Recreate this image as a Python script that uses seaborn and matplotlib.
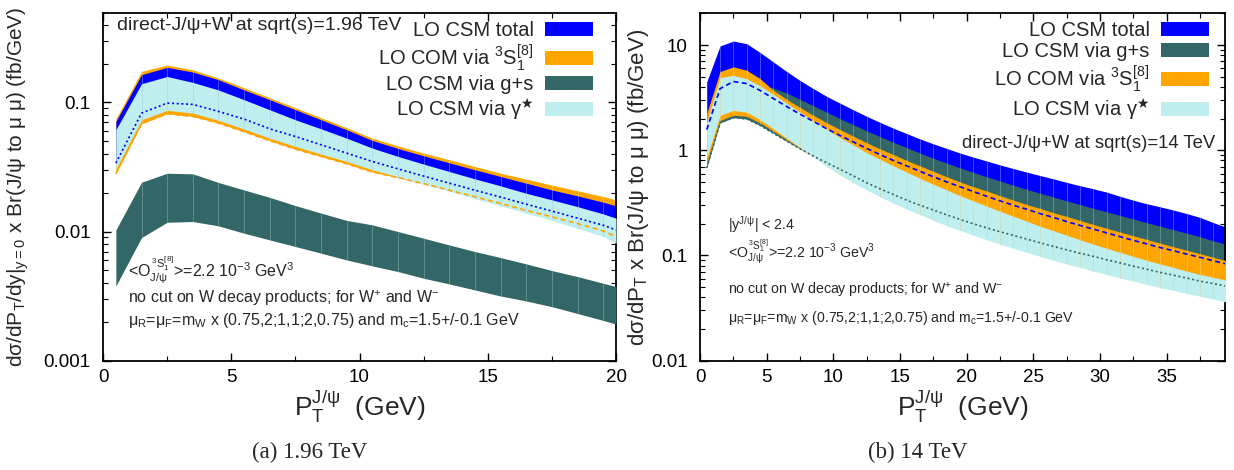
import matplotlib
matplotlib.use("Agg")
import matplotlib.pyplot as plt
import seaborn as sns
from matplotlib.ticker import MultipleLocator, FuncFormatter, NullFormatter, LogLocator

# 스타일 (gnuplot 느낌)
sns.set_style("ticks")
plt.rcParams['font.family'] = ['Liberation Sans', 'DejaVu Sans']
plt.rcParams['mathtext.fontset'] = 'custom'
plt.rcParams['mathtext.rm'] = 'Liberation Sans'
plt.rcParams['mathtext.it'] = 'Liberation Sans:italic'
plt.rcParams['mathtext.bf'] = 'Liberation Sans:bold'
plt.rcParams['mathtext.fallback'] = 'stixsans'

BLUE = '#0000ff'
ORANGE = '#ffa500'
GREEN = '#336666'
CYAN = '#bfeeee'

# ---------------- (a) 1.96 TeV ----------------
pt_a = [0.5, 1.5, 2.5, 3.5, 4.5, 5.5, 6.5, 7.5, 8.5, 9.5, 10.5,
        11.5, 12.5, 13.5, 14.5, 15.5, 16.5, 17.5, 18.5, 19.5, 20]
com_hi_a = [0.0745, 0.174, 0.195, 0.179, 0.1545, 0.130, 0.1087, 0.0910, 0.0761, 0.0637, 0.0529,
            0.0461, 0.0405, 0.0360, 0.0319, 0.0283, 0.0255, 0.0229, 0.0207, 0.0187, 0.0176]
com_lo_a = [0.0280, 0.0684, 0.0818, 0.0779, 0.0692, 0.0593, 0.0505, 0.0435, 0.0382, 0.0335, 0.0289,
            0.0262, 0.0235, 0.0209, 0.0186, 0.0165, 0.0146, 0.0130, 0.01154, 0.0101, 0.00915]
tot_hi_a = [0.0713, 0.164, 0.187, 0.172, 0.150, 0.125, 0.105, 0.0878, 0.0734, 0.0614, 0.0508,
            0.0440, 0.0386, 0.0341, 0.0301, 0.0267, 0.0237, 0.0210, 0.0189, 0.0169, 0.0158]
tot_lo_a = [0.0339, 0.0827, 0.0989, 0.0966, 0.0852, 0.0743, 0.0625, 0.0545, 0.0470, 0.0405, 0.0349,
            0.0306, 0.0269, 0.0237, 0.0209, 0.0185, 0.0163, 0.0144, 0.0127, 0.0112, 0.0103]
gam_hi_a = [0.0614, 0.1396, 0.159, 0.143, 0.125, 0.105, 0.0878, 0.0734, 0.0625, 0.0529, 0.0443,
            0.0382, 0.0333, 0.0292, 0.0256, 0.0226, 0.0198, 0.0176, 0.0156, 0.0137, 0.0127]
gam_lo_a = [0.0304, 0.0734, 0.0868, 0.0827, 0.0726, 0.0622, 0.0529, 0.0456, 0.0398, 0.0349, 0.0301,
            0.0265, 0.0234, 0.0206, 0.0180, 0.0158, 0.0139, 0.0122, 0.0106, 0.00915, 0.00813]
gs_hi_a = [0.0103, 0.0241, 0.0283, 0.0280, 0.0240, 0.0210, 0.0184, 0.0159, 0.0139, 0.0122, 0.01127,
           0.0100, 0.00888, 0.00788, 0.0070, 0.00629, 0.00562, 0.00499, 0.00448, 0.00398, 0.00375]
gs_lo_a = [0.00379, 0.00899, 0.0118, 0.01196, 0.01107, 0.00971, 0.00862, 0.00766, 0.0068, 0.00603, 0.00542,
           0.0049, 0.00435, 0.00393, 0.00353, 0.00317, 0.0029, 0.00262, 0.00232, 0.00205, 0.00192]

# ---------------- (b) 14 TeV ----------------
pt_b = [0.5, 1.5, 2.5, 3.5, 4.5, 5.5, 6.5, 7.5, 8.5, 9.5,
        10.5, 11.5, 12.5, 13.5, 14.5, 15.5, 16.5, 17.5, 18.5, 19.5,
        20.5, 21.5, 22.5, 23.5, 24.5, 25.5, 26.5, 27.5, 28.5, 29.5,
        30.5, 31.5, 32.5, 33.5, 34.5, 35.5, 36.5, 37.5, 38.5, 39.5]
tot_hi_b = [4.45, 9.8, 10.9, 10.3, 8.5, 6.9, 5.6, 4.6, 3.85, 3.25,
            2.8, 2.42, 2.1, 1.84, 1.62, 1.44, 1.28, 1.15, 1.04, 0.94,
            0.86, 0.79, 0.725, 0.67, 0.62, 0.575, 0.535, 0.495, 0.46, 0.43,
            0.40, 0.365, 0.335, 0.31, 0.29, 0.27, 0.25, 0.23, 0.205, 0.185]
tot_lo_b = [1.57, 3.85, 4.5, 4.3, 3.7, 3.1, 2.6, 2.2, 1.88, 1.6,
            1.38, 1.2, 1.04, 0.91, 0.80, 0.71, 0.63, 0.56, 0.50, 0.45,
            0.405, 0.365, 0.33, 0.30, 0.275, 0.25, 0.23, 0.21, 0.193, 0.178,
            0.164, 0.151, 0.139, 0.129, 0.119, 0.111, 0.103, 0.096, 0.089, 0.083]
gs_hi_b = [1.4, 3.4, 4.2, 4.3, 4.2, 3.9, 3.5, 3.05, 2.65, 2.3,
           2.0, 1.75, 1.53, 1.35, 1.19, 1.06, 0.94, 0.84, 0.755, 0.68,
           0.615, 0.56, 0.51, 0.465, 0.425, 0.39, 0.36, 0.33, 0.305, 0.28,
           0.26, 0.24, 0.222, 0.205, 0.19, 0.176, 0.163, 0.151, 0.138, 0.127]
gs_lo_b = [0.68, 1.82, 2.04, 1.98, 1.72, 1.45, 1.22, 1.03, 0.88, 0.76,
           0.66, 0.57, 0.49, 0.43, 0.38, 0.335, 0.30, 0.27, 0.243, 0.22,
           0.20, 0.183, 0.168, 0.155, 0.143, 0.132, 0.122, 0.113, 0.105, 0.098,
           0.091, 0.085, 0.079, 0.074, 0.069, 0.065, 0.061, 0.057, 0.054, 0.051]
com_hi_b = [2.24, 5.6, 6.2, 5.75, 4.8, 3.7, 3.05, 2.55, 2.15, 1.83,
            1.57, 1.36, 1.18, 1.03, 0.91, 0.80, 0.71, 0.63, 0.56, 0.50,
            0.45, 0.41, 0.37, 0.335, 0.305, 0.28, 0.255, 0.235, 0.215, 0.197,
            0.181, 0.167, 0.154, 0.142, 0.131, 0.121, 0.112, 0.104, 0.096, 0.089]
com_lo_b = [0.75, 1.92, 2.15, 2.1, 1.82, 1.52, 1.26, 1.04, 0.87, 0.78,
            0.72, 0.62, 0.54, 0.47, 0.42, 0.37, 0.33, 0.295, 0.265, 0.24,
            0.22, 0.20, 0.184, 0.17, 0.157, 0.145, 0.134, 0.124, 0.115, 0.107,
            0.10, 0.093, 0.087, 0.081, 0.076, 0.071, 0.067, 0.063, 0.059, 0.056]
gam_hi_b = [1.85, 4.9, 5.15, 4.78, 4.1, 3.4, 2.8, 2.3, 1.9, 1.58,
            1.32, 1.12, 0.95, 0.82, 0.71, 0.62, 0.54, 0.475, 0.42, 0.37,
            0.33, 0.295, 0.263, 0.236, 0.212, 0.19, 0.172, 0.156, 0.141, 0.128,
            0.117, 0.107, 0.098, 0.09, 0.083, 0.077, 0.071, 0.066, 0.062, 0.058]
gam_lo_b = [0.85, 2.15, 2.39, 2.3, 1.95, 1.6, 1.3, 1.06, 0.86, 0.70,
            0.58, 0.49, 0.42, 0.36, 0.315, 0.275, 0.245, 0.215, 0.192, 0.173,
            0.156, 0.141, 0.128, 0.117, 0.107, 0.098, 0.090, 0.083, 0.077, 0.071,
            0.066, 0.061, 0.057, 0.053, 0.0495, 0.0465, 0.0435, 0.041, 0.0385, 0.036]

lab_tot = "LO CSM total"
lab_com = r"LO COM via $^{3}\mathrm{S}_{1}^{[8]}$"
lab_gs = "LO CSM via g+s"
lab_gam = r"LO CSM via γ$^{\bigstar}$"
ldme = r"<O$_{\mathrm{J/ψ}}^{\,^{3}\mathrm{S}_{1}^{[8]}}$>=2.2 10$^{-3}$ GeV$^{3}$"
nocut = r"no cut on W decay products; for W$^{+}$ and W$^{-}$"
scales = r"μ$_{\mathrm{R}}$=μ$_{\mathrm{F}}$=m$_{\mathrm{W}}$ x (0.75,2;1,1;2,0.75) and m$_{\mathrm{c}}$=1.5+/-0.1 GeV"


def band(ax, x, lo, hi, color, seam, z, label):
    # 밴드 + gnuplot 식 세로 이음선
    ax.fill_between(x, lo, hi, color=color, lw=0, zorder=z, label=label)
    ax.vlines(x[1:-1], lo[1:-1], hi[1:-1], color=seam, lw=0.6, alpha=0.6, zorder=z + 0.1)


fig = plt.figure(figsize=(12.34, 4.70), dpi=100)
ax1 = fig.add_axes([0.0835, 0.2326, 0.4157, 0.739])
ax2 = fig.add_axes([0.5673, 0.2326, 0.4257, 0.739])

# ---- 왼쪽 패널 ----
band(ax1, pt_a, com_lo_a, com_hi_a, ORANGE, '#ffd27a', 1, lab_com)
band(ax1, pt_a, tot_lo_a, tot_hi_a, BLUE, '#7f8fff', 2, lab_tot)
band(ax1, pt_a, gam_lo_a, gam_hi_a, CYAN, '#a9c9ef', 3, lab_gam)
sns.lineplot(x=pt_a, y=tot_lo_a, ax=ax1, color=BLUE, lw=1.2, linestyle=(0, (1.2, 1.6)), zorder=4)
sns.lineplot(x=pt_a, y=com_lo_a, ax=ax1, color=ORANGE, lw=1.2, linestyle=(0, (3, 2)), zorder=4)
band(ax1, pt_a, gs_lo_a, gs_hi_a, GREEN, '#8fb0b0', 5, lab_gs)

h, l = ax1.get_legend_handles_labels()
order = [l.index(lab_tot), l.index(lab_com), l.index(lab_gs), l.index(lab_gam)]
ax1.legend([h[i] for i in order], [l[i] for i in order], loc='upper right',
           bbox_to_anchor=(0.955, 0.978), frameon=False, markerfirst=False,
           fontsize=14.5, handlelength=2.4, handleheight=0.7, handletextpad=0.55,
           labelspacing=0.12, borderpad=0, borderaxespad=0)

ax1.text(0.027, 0.966, "direct-J/ψ+W at sqrt(s)=1.96 TeV", transform=ax1.transAxes,
         fontsize=14, va='center', ha='left')
ax1.text(0.049, 0.241, ldme, transform=ax1.transAxes, fontsize=11.5, va='baseline')
ax1.text(0.049, 0.166, nocut, transform=ax1.transAxes, fontsize=11.5, va='baseline')
ax1.text(0.049, 0.103, scales, transform=ax1.transAxes, fontsize=11.5, va='baseline')

ax1.set_xlim(0, 20)
ax1.set_ylim(0.001, 0.49)
ax1.set_ylabel(r"dσ/dP$_{\mathrm{T}}$/dy|$_{\mathrm{y=0}}$ x Br(J/ψ to μ μ) (fb/GeV)", fontsize=15)
ax1.yaxis.set_label_coords(-0.140, 0.5)

# ---- 오른쪽 패널 ----
band(ax2, pt_b, tot_lo_b, tot_hi_b, BLUE, '#7f8fff', 1, lab_tot)
band(ax2, pt_b, gs_lo_b, gs_hi_b, GREEN, '#8fb0b0', 2, lab_gs)
band(ax2, pt_b, com_lo_b, com_hi_b, ORANGE, '#ffd27a', 3, lab_com)
band(ax2, pt_b, gam_lo_b, gam_hi_b, CYAN, '#d8d0a0', 4, lab_gam)
sns.lineplot(x=pt_b, y=tot_lo_b, ax=ax2, color=BLUE, lw=1.2, linestyle=(0, (3, 2)), zorder=5)
sns.lineplot(x=pt_b, y=gs_lo_b, ax=ax2, color=GREEN, lw=1.2, linestyle=(0, (1.2, 1.6)), zorder=5)

ax2.legend(loc='upper right', bbox_to_anchor=(0.969, 0.978), frameon=False, markerfirst=False,
           fontsize=14.5, handlelength=2.4, handleheight=0.7, handletextpad=0.55,
           labelspacing=0.12, borderpad=0, borderaxespad=0)

ax2.text(0.98, 0.626, "direct-J/ψ+W at sqrt(s)=14 TeV", transform=ax2.transAxes,
         fontsize=13.3, va='center', ha='right')
ax2.text(0.053, 0.376, r"|y$^{\mathrm{J/ψ}}$| < 2.4", transform=ax2.transAxes, fontsize=10.2, va='baseline')
ax2.text(0.053, 0.296, ldme, transform=ax2.transAxes, fontsize=10.2, va='baseline')
ax2.text(0.053, 0.189, nocut, transform=ax2.transAxes, fontsize=10.2, va='baseline')
ax2.text(0.053, 0.112, scales, transform=ax2.transAxes, fontsize=10.2, va='baseline')

ax2.set_xlim(0, 39.4)
ax2.set_ylim(0.01, 20)
ax2.set_ylabel(r"dσ/dP$_{\mathrm{T}}$ x Br(J/ψ to μ μ) (fb/GeV)", fontsize=16)
ax2.yaxis.set_label_coords(-0.093, 0.5)

# ---- 공통 축 설정 ----
for ax in (ax1, ax2):
    ax.set_yscale('log')
    ax.xaxis.set_major_locator(MultipleLocator(5))
    ax.xaxis.set_minor_locator(MultipleLocator(2.5))
    ax.yaxis.set_major_locator(LogLocator(base=10))
    ax.yaxis.set_minor_locator(LogLocator(base=10, subs=range(2, 10)))
    ax.yaxis.set_major_formatter(FuncFormatter(lambda v, p: f"{v:g}"))
    ax.yaxis.set_minor_formatter(NullFormatter())
    ax.tick_params(which='both', direction='in', top=True, right=True, labelsize=13.5, colors='black')
    ax.tick_params(axis='y', which='both', pad=9)
    ax.tick_params(axis='x', which='both', pad=6)
    ax.tick_params(which='major', length=6, width=1)
    ax.tick_params(which='minor', length=3.5, width=0.8)
    for s in ax.spines.values():
        s.set_linewidth(1.3)
        s.set_color('black')
    ax.set_xlabel(r"P$_{\mathrm{T}}^{\mathrm{J/ψ}}$  (GeV)", fontsize=19, labelpad=2)

fig.text(0.251, 0.038, "(a) 1.96 TeV", family='Liberation Serif', fontsize=16.5, ha='center', va='center')
fig.text(0.744, 0.038, "(b) 14 TeV", family='Liberation Serif', fontsize=16.5, ha='center', va='center')

fig.savefig('out.png', dpi=100)
